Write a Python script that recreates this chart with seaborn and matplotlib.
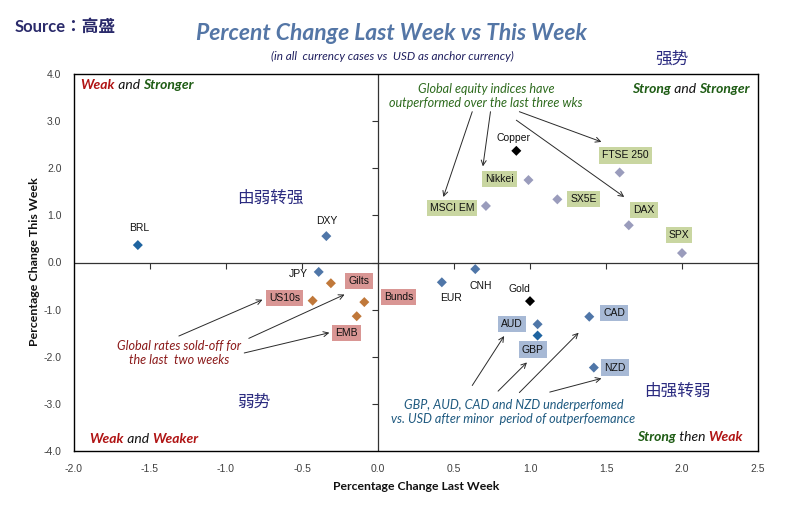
import matplotlib
matplotlib.use("Agg")
import matplotlib.pyplot as plt
import seaborn as sns
import pandas as pd

# ---------------- data ----------------
names = ["BRL", "DXY", "JPY", "Gilts", "US10s", "Bunds", "EMB", "EUR", "CNH",
         "Gold", "AUD", "GBP", "CAD", "NZD", "Copper", "Nikkei", "MSCI EM",
         "SX5E", "FTSE 250", "DAX", "SPX"]
last_week = [-1.58, -0.34, -0.39, -0.31, -0.43, -0.09, -0.14, 0.42, 0.64,
             1.00, 1.05, 1.05, 1.39, 1.42, 0.91, 0.99, 0.71,
             1.18, 1.59, 1.65, 2.00]
this_week = [0.37, 0.56, -0.20, -0.44, -0.81, -0.84, -1.14, -0.42, -0.14,
             -0.82, -1.31, -1.55, -1.15, -2.23, 2.37, 1.75, 1.20,
             1.34, 1.91, 0.79, 0.20]
groups = ["fx_dark", "fx", "fx", "rates", "rates", "rates", "rates", "fx", "fx",
          "commodity", "fx", "fx_dark", "fx", "fx", "commodity", "equity", "equity",
          "equity", "equity", "equity", "equity"]
boxed = ["Gilts", "US10s", "Bunds", "EMB", "AUD", "GBP", "CAD", "NZD",
         "Nikkei", "MSCI EM", "SX5E", "FTSE 250", "DAX", "SPX"]

x_ticks = [-2.0, -1.5, -1.0, -0.5, 0.0, 0.5, 1.0, 1.5, 2.0, 2.5]
y_ticks = [-4.0, -3.0, -2.0, -1.0, 0.0, 1.0, 2.0, 3.0, 4.0]

title = "Percent Change Last Week vs This Week"
subtitle = "(in all  currency cases vs  USD as anchor currency)"
x_label = "Percentage Change Last Week"
y_label = "Percentage Change This Week"

# ---------------- styles / layout ----------------
marker_colors = {"fx": "#4f76a8", "fx_dark": "#1f64a0", "rates": "#c0783a",
                 "commodity": "#000000", "equity": "#9a9cbc"}
box_colors = {"fx": "#a7b9d5", "fx_dark": "#a7b9d5", "rates": "#d99694",
              "equity": "#c9d6a1"}
# label offsets in pixels (dx, dy) relative to each marker
label_offsets = {"BRL": (1, 17), "DXY": (0, 15), "JPY": (-20, -2), "Gilts": (28, 2),
                 "US10s": (-28, 3), "Bunds": (34, 5), "EMB": (-10, -17),
                 "EUR": (9, -16), "CNH": (5, -17), "Gold": (-11, 12),
                 "AUD": (-26, 0), "GBP": (-5, -14), "CAD": (25, 4), "NZD": (21, 0),
                 "Copper": (-3, 13), "Nikkei": (-29, 1), "MSCI EM": (-34, -2),
                 "SX5E": (26, 0), "FTSE 250": (6, 17), "DAX": (15, 15), "SPX": (-3, 18)}

df = pd.DataFrame({"name": names, "last": last_week, "this": this_week, "group": groups})

sns.set_theme(style="white")
plt.rcParams["font.family"] = ["Liberation Sans", "Noto Sans CJK SC", "DejaVu Sans"]

W, H = 786, 516
fig = plt.figure(figsize=(W / 100, H / 100), dpi=100)
ax = fig.add_axes([74 / W, 1 - 451 / H, 684 / W, 377 / H])

sns.scatterplot(data=df, x="last", y="this", hue="group", palette=marker_colors,
                marker="D", s=26, edgecolor="none", legend=False, ax=ax, zorder=3)

ax.set_xlim(x_ticks[0], x_ticks[-1])
ax.set_ylim(y_ticks[0], y_ticks[-1])
ax.set_xticks(x_ticks)
ax.set_yticks(y_ticks)
ax.set_xticklabels([f"{v:.1f}" for v in x_ticks])
ax.set_yticklabels([f"{v:.1f}" for v in y_ticks])
ax.tick_params(length=0, labelsize=7.5, colors="#404040", pad=9)
for s in ax.spines.values():
    s.set_color("#000000")
    s.set_linewidth(1.0)
    s.set_visible(True)
ax.set_xlabel("")
ax.set_ylabel("")

fig.text(416 / W, 1 - 486 / H, x_label, fontsize=8.8, fontweight="bold", family="Lato",
         color="#111111", ha="center", va="center")
fig.text(35 / W, 1 - 262 / H, y_label, fontsize=8.9, fontweight="bold", family="Lato",
         color="#111111", ha="center", va="center", rotation=90)

# zero lines with small tick marks
ax.axhline(0, color="#333333", lw=0.9, zorder=1)
ax.axvline(0, color="#333333", lw=0.9, zorder=1)
ax.plot(x_ticks[1:-1], [0] * len(x_ticks[1:-1]), ls="none", marker=3, ms=4,
        mew=0.8, color="#333333", zorder=1)
ax.plot([0] * len(y_ticks[1:-1]), y_ticks[1:-1], ls="none", marker=0, ms=4,
        mew=0.8, color="#333333", zorder=1)

# point labels
for n, xv, yv, g in zip(names, last_week, this_week, groups):
    dx, dy = label_offsets[n]
    kw = {}
    if n in boxed:
        kw["bbox"] = dict(boxstyle="square,pad=0.3", fc=box_colors[g], ec="none")
    ax.annotate(n, (xv, yv), xytext=(dx, dy), textcoords="offset pixels",
                ha="center", va="center", fontsize=7.5, color="#111111",
                family="Liberation Sans", zorder=4, **kw)

# annotation texts with arrows
ann_kw = dict(ha="center", va="center", fontsize=9.1, style="italic",
              family="Lato", linespacing=1.2, zorder=5)
ax.text(0.71, 3.54, "Global equity indices have\noutperformed over the last three wks",
        color="#2e6b1e", **ann_kw)
ax.text(-1.31, -1.93, "Global rates sold-off for\nthe last  two weeks",
        color="#8b1a1a", **ann_kw)
ax.text(0.89, -3.18, "GBP, AUD, CAD and NZD underperfomed\nvs. USD after minor  period of outperfoemance",
        color="#1f5a80", **ann_kw)

arrows = [((0.62, 3.20), (0.43, 1.39)), ((0.74, 3.20), (0.69, 2.04)),
          ((0.93, 3.20), (1.47, 2.56)), ((0.91, 3.02), (1.62, 1.39)),
          ((-1.31, -1.56), (-0.76, -0.79)), ((-0.85, -1.61), (-0.22, -0.68)),
          ((-0.88, -1.92), (-0.32, -1.49)),
          ((0.62, -2.61), (0.83, -1.56)), ((0.79, -2.73), (0.98, -2.12)),
          ((0.93, -2.76), (1.32, -1.49)), ((1.13, -2.75), (1.47, -2.46))]
for start, end in arrows:
    ax.annotate("", xy=end, xytext=start,
                arrowprops=dict(arrowstyle="->", color="#2a2a2a", lw=0.7,
                                shrinkA=0, shrinkB=0, mutation_scale=9), zorder=5)

# quadrant labels (multi-colour)
RED, GREEN, BLACK = "#b01414", "#1e5c14", "#111111"
def chain(pieces, x, y, right=False):
    kw = dict(fontsize=10, style="italic", family="Lato", va="bottom")
    if not right:
        t = ax.text(x, y, pieces[0][0], color=pieces[0][1], fontweight=pieces[0][2],
                    transform=ax.transAxes, ha="left", **kw)
        for txt, col, wt in pieces[1:]:
            t = ax.annotate(txt, xy=(1, 0), xycoords=t, color=col, fontweight=wt,
                            ha="left", **kw)
    else:
        t = ax.text(x, y, pieces[-1][0], color=pieces[-1][1], fontweight=pieces[-1][2],
                    transform=ax.transAxes, ha="right", **kw)
        for txt, col, wt in reversed(pieces[:-1]):
            t = ax.annotate(txt, xy=(0, 0), xycoords=t, color=col, fontweight=wt,
                            ha="right", **kw)

chain([("Weak", RED, "bold"), (" and ", BLACK, "normal"), ("Stronger", GREEN, "bold")],
      0.009, 0.955)
chain([("Strong", GREEN, "bold"), (" and ", BLACK, "normal"), ("Stronger", GREEN, "bold")],
      0.988, 0.945, right=True)
chain([("Weak", RED, "bold"), (" and ", BLACK, "normal"), ("Weaker", RED, "bold")],
      0.022, 0.017)
chain([("Strong", GREEN, "bold"), (" then ", BLACK, "normal"), ("Weak", RED, "bold")],
      0.978, 0.020, right=True)

# chinese quadrant labels
NAVY = "#2b2b80"
cjk = dict(fontsize=12, color=NAVY, family="Noto Sans CJK SC", ha="center", va="center")
ax.text(-0.71, 1.36, "由弱转强", **cjk)
ax.text(-0.82, -2.96, "弱势", **cjk)
ax.text(1.97, -2.73, "由强转弱", **cjk)
fig.text(672 / W, 1 - 59 / H, "强势", **cjk)

# titles
fig.text(15 / W, 1 - 27 / H, "Source：高盛", fontsize=12, fontweight="bold",
         color="#2b2b6b", family=["Lato", "Noto Sans CJK TC"], ha="left", va="center")
fig.text(392 / W, 1 - 34 / H, title, fontsize=16.5, fontweight="bold", style="italic",
         color="#5476a6", family="Lato", ha="center", va="center")
fig.text(392 / W, 1 - 56 / H, subtitle, fontsize=8.5, style="italic",
         color="#1f1f5f", family="Lato", ha="center", va="center")

fig.savefig("out.png", dpi=100)
